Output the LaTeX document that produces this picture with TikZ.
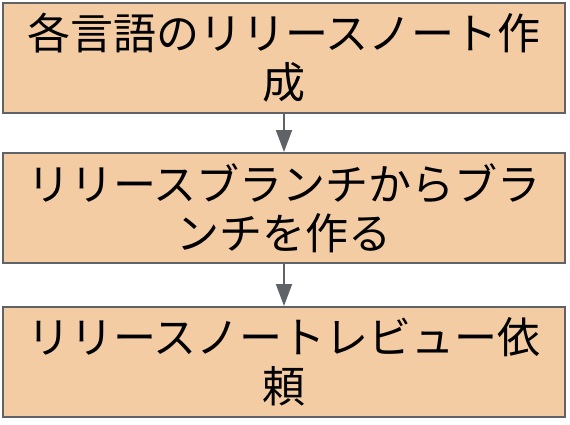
\documentclass[tikz,border=0pt]{standalone}
\usepackage{fontspec}
\newfontfamily\jpfont{Noto Sans CJK JP}
\usetikzlibrary{arrows.meta}
\definecolor{stepfill}{HTML}{F4CCA3}
\definecolor{stepline}{HTML}{5F6368}

\begin{document}
\begin{tikzpicture}[x=1pt,y=1pt,>={Triangle[length=22pt,width=16pt]}]

\tikzset{%
every step/.style={
rectangle,
draw=stepline,
line width=2pt,
fill=stepfill,
minimum width=562pt,
minimum height=110pt,
inner sep=0pt,
align=center,
font=\jpfont\fontsize{43}{49}\selectfont
},
flow arrow/.style={
draw=stepline,
line width=2pt,
->
},
}

\useasboundingbox (0,0) rectangle (570,-424);

% Steps of the release flow, one box each
\foreach \h/\a/\b [count=\y] in {58/各言語のリリースノート作/成,
208/リリースブランチからブラ/ンチを作る,
362/リリースノートレビュー依/頼}
\node [every step/.try] (step-\y) at (284,-\h) {\a\\\b};

% Arrows between the steps
\draw [flow arrow] (step-1) -- (step-2);
\draw [flow arrow] (step-2) -- (step-3);

\end{tikzpicture}
\end{document}
